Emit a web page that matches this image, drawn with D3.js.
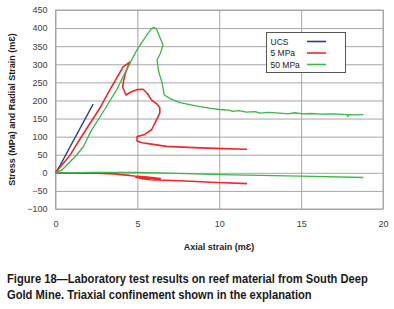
<!DOCTYPE html>
<html lang="en">
<head>
  <meta charset="UTF-8">
  <title>Figure 18</title>
  <style>
    body { margin: 0; background: #fff; }
    svg { display: block; }
  </style>
</head>
<body>
  <script src="https://d3js.org/d3.v7.min.js"></script>
  <script>
    // values: [axial strain, stress or radial strain]
    const ucsAxial = [[0, 0], [0.3, 22], [1.2, 98], [2.3, 190]];
    const ucsRadial = [[0, 0], [1.2, 0], [2.3, 0]];
    const mpa5Axial = [[0, 0], [0.4, 22], [0.88, 48], [1.7, 108], [2.71, 179], [3.32, 229],
      [4.13, 293], [4.54, 306], [4.3, 280], [4.17, 257], [4.1, 237], [4.3, 215], [4.65, 224],
      [5.0, 230], [5.35, 231], [5.6, 220], [5.87, 201], [6.2, 190], [6.37, 180], [6.37, 165],
      [6.1, 140], [5.87, 119], [5.4, 105], [4.98, 100], [4.98, 88], [5.3, 83], [5.76, 80],
      [6.78, 73], [8.8, 69], [10.2, 67], [11.7, 65]];
    const mpa5Radial = [[0, 0], [2.5, -1], [3.6, -3], [4.0, -5], [4.54, -7], [4.3, -6],
      [4.8, -9], [5.6, -12], [6.4, -16], [5.6, -14], [4.9, -12], [5.3, -16], [5.8, -19],
      [7.6, -22], [9.5, -26], [11.7, -30]];
    const mpa50Axial = [[0, 0], [0.4, 8], [0.88, 30], [1.3, 50], [1.7, 72], [2.2, 118],
      [3.0, 175], [3.73, 229], [4.4, 290], [4.95, 338], [5.5, 376], [5.85, 398], [6.02, 402],
      [6.17, 397], [6.4, 372], [6.57, 353], [6.4, 330], [6.2, 312], [6.3, 280], [6.5, 250],
      [6.57, 234], [6.64, 215], [7.0, 205], [7.6, 194], [8.8, 183], [9.5, 178], [10.0, 175],
      [10.6, 173], [10.8, 170], [11.2, 172], [11.66, 168], [12.2, 169], [12.5, 165],
      [13.0, 167], [13.7, 165], [14.2, 163], [14.6, 166], [15.1, 163], [15.6, 164],
      [16.2, 162], [17.0, 163], [17.8, 161], [17.85, 155], [17.9, 161], [18.3, 160], [18.8, 161]];
    const mpa50Radial = [[0, 0], [2.3, 1], [5, 1], [7, -1], [10, -5], [15, -9], [18.8, -13]];

    const series = [
      { name: 'UCS', color: '#263d8c', width: 1.3, lines: [ucsAxial, ucsRadial] },
      { name: '5 MPa', color: '#f02828', width: 1.6, lines: [mpa5Axial, mpa5Radial] },
      { name: '50 MPa', color: '#3db54a', width: 1.3, lines: [mpa50Axial, mpa50Radial] }
    ];
    const xTicks = [0, 5, 10, 15, 20];
    const yTicks = [-100, -50, 0, 50, 100, 150, 200, 250, 300, 350, 400, 450];

    const W = 394, H = 309;
    const margin = { top: 10, right: 11, bottom: 100, left: 55.5 };

    const svg = d3.select('body').append('svg')
      .attr('width', W)
      .attr('height', H)
      .style('font-family', '"Liberation Sans", Arial, sans-serif');

    const x = d3.scaleLinear().domain([0, 20]).range([margin.left, W - margin.right]);
    const y = d3.scaleLinear().domain([-100, 450]).range([H - margin.bottom, margin.top]);

    // horizontal grid + y labels
    svg.append('g')
      .attr('transform', `translate(${margin.left},0)`)
      .call(d3.axisLeft(y).tickValues(yTicks).tickSize(-(x(20) - x(0))).tickPadding(8))
      .call(g => g.select('.domain').remove())
      .call(g => g.selectAll('line').attr('stroke', '#a6a6a6'))
      .call(g => g.selectAll('text').attr('fill', '#404040').style('font-size', '9px'));

    // vertical grid + x labels
    svg.append('g')
      .attr('transform', `translate(0,${y(-100)})`)
      .call(d3.axisBottom(x).tickValues(xTicks).tickSize(-(y(-100) - y(450))).tickPadding(12))
      .call(g => g.select('.domain').remove())
      .call(g => g.selectAll('line').attr('stroke', '#a6a6a6'))
      .call(g => g.selectAll('text').attr('fill', '#404040').style('font-size', '9px'));

    svg.append('rect')
      .attr('x', x(0)).attr('y', y(450))
      .attr('width', x(20) - x(0)).attr('height', y(-100) - y(450))
      .attr('fill', 'none').attr('stroke', '#a6a6a6');

    const line = d3.line().x(d => x(d[0])).y(d => y(d[1]));

    series.forEach(s => {
      s.lines.forEach(pts => {
        svg.append('path')
          .datum(pts)
          .attr('d', line)
          .attr('fill', 'none')
          .attr('stroke', s.color)
          .attr('stroke-width', s.width)
          .attr('stroke-linejoin', 'round');
      });
    });

    // legend
    const lg = svg.append('g').attr('transform', 'translate(266.5,32.5)');
    lg.append('rect').attr('width', 79).attr('height', 40)
      .attr('fill', '#fff').attr('stroke', '#555').attr('stroke-width', 1);
    series.forEach((s, i) => {
      const ly = 9 + i * 11.5;
      lg.append('text').attr('x', 4).attr('y', ly + 3)
        .attr('fill', '#222').style('font-size', '8.5px').text(s.name);
      lg.append('line').attr('x1', 40.5).attr('x2', 59.5).attr('y1', ly).attr('y2', ly)
        .attr('stroke', s.color).attr('stroke-width', 1.6);
    });

    // axis titles
    svg.append('text')
      .attr('x', 219).attr('y', 250)
      .attr('text-anchor', 'middle')
      .attr('fill', '#222').style('font-size', '9px').style('font-weight', 'bold')
      .text('Axial strain (mƐ)');

    svg.append('text')
      .attr('transform', `translate(15,${(y(450) + y(-100)) / 2}) rotate(-90)`)
      .attr('text-anchor', 'middle')
      .attr('fill', '#222').style('font-size', '9px').style('font-weight', 'bold')
      .text('Stress (MPa) and Radial Strain (mƐ)');

    // caption (squeezed horizontally to look like a condensed face)
    const caption = [
      ['Figure 18\u2014Laboratory test results on reef material from South Deep', 361],
      ['Gold Mine. Triaxial confinement shown in the explanation', 305]
    ];
    caption.forEach((c, i) => {
      const t = svg.append('text')
        .attr('fill', '#1a1a1a')
        .style('font-size', '13px').style('font-weight', 'bold')
        .text(c[0]);
      const k = c[1] / t.node().getComputedTextLength();
      t.attr('transform', `translate(7,${283 + i * 16}) scale(${k},1)`);
    });
  </script>
</body>
</html>
